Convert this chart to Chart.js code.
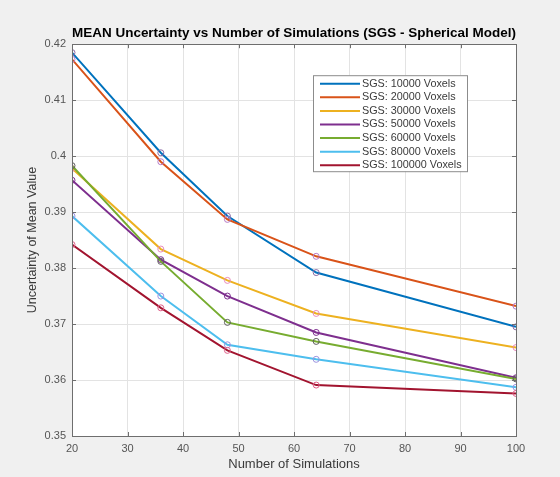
<!DOCTYPE html>
<html>
<head>
<meta charset="utf-8">
<script src="https://cdn.jsdelivr.net/npm/chart.js@4.4.1/dist/chart.umd.min.js"></script>
<style>
  body { margin: 0; background: #f0f0f0; }
  #wrap { width: 560px; height: 477px; }
</style>
</head>
<body>
<div id="wrap"><canvas id="uncCanvas" width="560" height="477"></canvas></div>
<script>
// number of simulations
const simCounts = [20, 36, 48, 64, 100];

// mean uncertainty per voxel count
const sgs10000 = [0.4185, 0.4006, 0.3893, 0.3792, 0.3695];
const sgs20000 = [0.4173, 0.3990, 0.3887, 0.3821, 0.3732];
const sgs30000 = [0.3978, 0.3834, 0.3778, 0.3719, 0.3658];
const sgs50000 = [0.3957, 0.3815, 0.3750, 0.3685, 0.3604];
const sgs60000 = [0.3983, 0.3812, 0.3703, 0.3669, 0.3602];
const sgs80000 = [0.3893, 0.3750, 0.3663, 0.3637, 0.3587];
const sgs100000 = [0.3842, 0.3729, 0.3653, 0.3591, 0.3576];

const seriesLabels = ['SGS: 10000 Voxels', 'SGS: 20000 Voxels', 'SGS: 30000 Voxels', 'SGS: 50000 Voxels',
  'SGS: 60000 Voxels', 'SGS: 80000 Voxels', 'SGS: 100000 Voxels'];
const seriesValues = [sgs10000, sgs20000, sgs30000, sgs50000, sgs60000, sgs80000, sgs100000];

const xTicks = [20, 30, 40, 50, 60, 70, 80, 90, 100];
const yTicks = [0.35, 0.36, 0.37, 0.38, 0.39, 0.4, 0.41, 0.42];

// matlab default line colours
const lineColors = ['#0072BD', '#D95319', '#EDB120', '#7E2F8E', '#77AC30', '#4DBEEE', '#A2142F'];
const markerColors = ['#8a6aa6', '#b67cc8', '#e98bbd', '#7E2F8E', '#5f5f5f', '#9c93e0', '#e0608a'];

const FONT = '"Liberation Sans", Arial, sans-serif';

const datasets = seriesLabels.map((label, i) => ({
  label: label,
  data: simCounts.map((x, j) => ({ x: x, y: seriesValues[i][j] })),
  borderColor: lineColors[i],
  borderWidth: 2,
  pointRadius: 3,
  pointBorderWidth: 1,
  pointBorderColor: markerColors[i],
  pointBackgroundColor: 'rgba(0,0,0,0)',
  fill: false,
  tension: 0,
  order: seriesLabels.length - i
}));

// grey figure, white axes, box and inward ticks like matlab
const axesBoxPlugin = {
  id: 'axesBox',
  beforeDraw: (chart) => {
    const ctx = chart.ctx;
    const a = chart.chartArea;
    ctx.save();
    ctx.fillStyle = '#f0f0f0';
    ctx.fillRect(0, 0, chart.width, chart.height);
    ctx.fillStyle = '#ffffff';
    ctx.fillRect(a.left, a.top, a.right - a.left, a.bottom - a.top);
    ctx.restore();
  },
  afterDatasetsDraw: (chart) => {
    const ctx = chart.ctx;
    const a = chart.chartArea;
    const xs = chart.scales.x;
    const ys = chart.scales.y;
    ctx.save();
    ctx.strokeStyle = '#6e6e6e';
    ctx.lineWidth = 1;
    ctx.beginPath();
    xTicks.forEach((t) => {
      const px = Math.round(xs.getPixelForValue(t)) + 0.5;
      ctx.moveTo(px, a.bottom);
      ctx.lineTo(px, a.bottom - 4);
      ctx.moveTo(px, a.top);
      ctx.lineTo(px, a.top + 4);
    });
    yTicks.forEach((t) => {
      const py = Math.round(ys.getPixelForValue(t)) + 0.5;
      ctx.moveTo(a.left, py);
      ctx.lineTo(a.left + 4, py);
      ctx.moveTo(a.right, py);
      ctx.lineTo(a.right - 4, py);
    });
    ctx.stroke();
    ctx.strokeRect(Math.round(a.left) + 0.5, Math.round(a.top) + 0.5,
      Math.round(a.right - a.left), Math.round(a.bottom - a.top));
    ctx.restore();
  }
};

// legend box inside the axes, upper right
const boxLegendPlugin = {
  id: 'boxLegend',
  afterDraw: (chart) => {
    const ctx = chart.ctx;
    const a = chart.chartArea;
    const bx = a.right - 203;
    const by = a.top + 31;
    const bw = 154;
    const bh = 96;
    const rowH = 13.6;
    ctx.save();
    ctx.fillStyle = '#ffffff';
    ctx.fillRect(bx, by, bw, bh);
    ctx.strokeStyle = '#8c8c8c';
    ctx.lineWidth = 1;
    ctx.strokeRect(bx + 0.5, by + 0.5, bw, bh);
    ctx.font = '10.8px ' + FONT;
    ctx.textBaseline = 'middle';
    chart.data.datasets.forEach((ds, i) => {
      const y = by + 8.5 + i * rowH;
      ctx.strokeStyle = ds.borderColor;
      ctx.lineWidth = 2;
      ctx.beginPath();
      ctx.moveTo(bx + 7, y);
      ctx.lineTo(bx + 47, y);
      ctx.stroke();
      ctx.fillStyle = '#3a3a3a';
      ctx.fillText(ds.label, bx + 49, y);
    });
    ctx.restore();
  }
};

const ctx = document.getElementById('uncCanvas').getContext('2d');
const chart = new Chart(ctx, {
  type: 'line',
  data: { datasets: datasets },
  options: {
    responsive: false,
    animation: false,
    layout: { padding: { left: 0, right: 44, top: 0, bottom: 0 } },
    scales: {
      x: {
        type: 'linear',
        min: 20,
        max: 100,
        afterBuildTicks: (scale) => { scale.ticks = xTicks.map((v) => ({ value: v })); },
        afterFit: (scale) => { scale.height = 41; },
        grid: { color: '#e3e3e3', drawTicks: false },
        border: { display: false },
        ticks: {
          padding: 6,
          color: '#555555',
          font: { family: FONT, size: 11 },
          callback: (v) => String(v)
        },
        title: {
          display: true,
          text: 'Number of Simulations',
          color: '#3a3a3a',
          font: { family: FONT, size: 13 },
          padding: { top: 0, bottom: 5 }
        }
      },
      y: {
        type: 'linear',
        min: 0.35,
        max: 0.42,
        afterBuildTicks: (scale) => { scale.ticks = yTicks.map((v) => ({ value: v })); },
        afterFit: (scale) => { scale.width = 72; },
        grid: { color: '#e3e3e3', drawTicks: false },
        border: { display: false },
        ticks: {
          padding: 6,
          color: '#555555',
          font: { family: FONT, size: 11 },
          callback: (v) => String(Number(v.toFixed(2)))
        },
        title: {
          display: true,
          text: 'Uncertainty of Mean Value',
          color: '#3a3a3a',
          font: { family: FONT, size: 12.5 },
          padding: { top: 25, bottom: 0 }
        }
      }
    },
    plugins: {
      legend: { display: false },
      tooltip: { enabled: false },
      title: {
        display: true,
        fullSize: false,
        text: 'MEAN Uncertainty vs Number of Simulations (SGS - Spherical Model)',
        color: '#000000',
        font: { family: FONT, size: 13.5, weight: 'bold' },
        padding: { top: 25, bottom: 3 }
      }
    }
  },
  plugins: [axesBoxPlugin, boxLegendPlugin]
});
</script>
</body>
</html>
